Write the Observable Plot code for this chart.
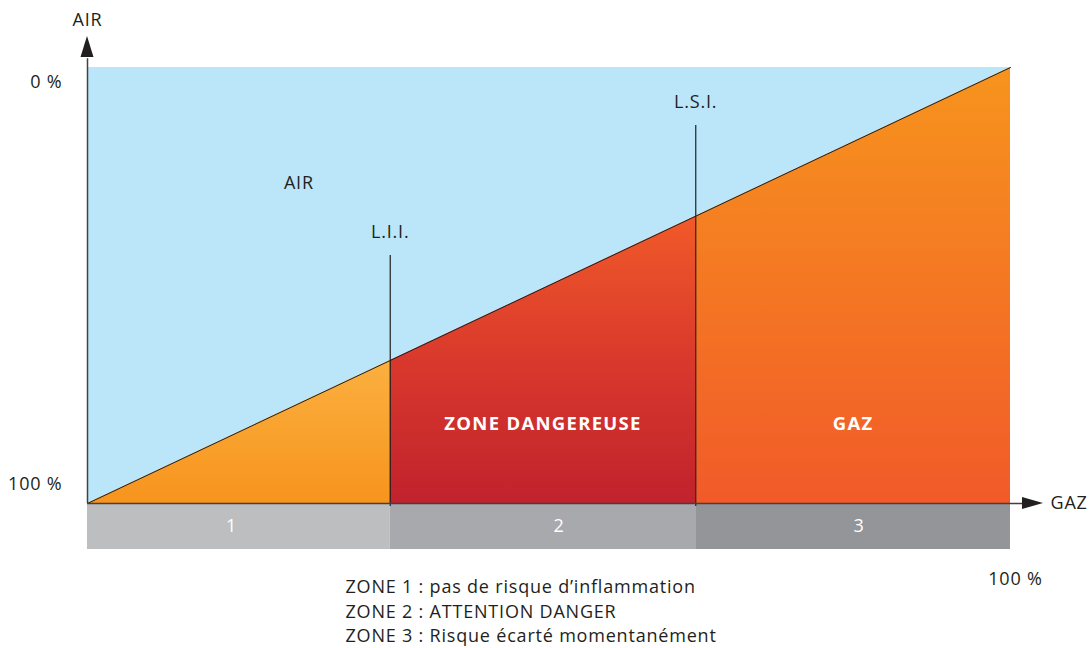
<!DOCTYPE html>
<html>
<head>
<meta charset="utf-8">
<script src="https://cdn.jsdelivr.net/npm/d3@7"></script>
<script src="https://cdn.jsdelivr.net/npm/@observablehq/plot@0.6"></script>
<style>
  html, body { margin: 0; padding: 0; background: #fff; }
  svg { display: block; }
</style>
</head>
<body>
<div id="chart"></div>
<script>
// ---- data ----
const zoneNames = ["1", "2", "3"];
const zoneBounds = [0, 32.8, 65.9, 100];          // % gaz
const zoneLabelAt = [15.6, 51.1, 83.6];           // % gaz where zone numbers sit
const limitNames = ["L.I.I.", "L.S.I."];
const limitValues = [32.8, 65.9];                 // % gaz
const limitTops = [43.1, 13.3];                   // air % where marker lines start
const airTickLabels = ["0 %", "100 %"];
const airTickValues = [0, 100];
const zoneTitles = ["", "ZONE DANGEREUSE", "GAZ"];
const legendLines = [
  "ZONE 1 : pas de risque d\u2019inflammation",
  "ZONE 2 : ATTENTION DANGER",
  "ZONE 3 : Risque écarté momentanément"
];

const FONT = "'Open Sans', Lato, sans-serif";
const TXT = "#231f20";
const FS = 18;
const zoneBarColors = ["#bcbec0", "#a7a9ac", "#939598"];
const gradientSpecs = [
  [["0", "#fbb040"], ["1", "#f7941d"]],
  [["0", "#f15a29"], ["0.5", "#d9392c"], ["1", "#c1222d"]],
  [["0", "#f7941d"], ["1", "#f15a29"]]
];

// ---- derived tables ----
const zones = zoneNames.map((name, i) => ({
  name, i, x1: zoneBounds[i], x2: zoneBounds[i + 1], labelAt: zoneLabelAt[i],
  title: zoneTitles[i], mid: (zoneBounds[i] + zoneBounds[i + 1]) / 2
}));
const zoneAreas = zones.flatMap(z => [
  {zone: z.i, gas: z.x1, air: 100 - z.x1},
  {zone: z.i, gas: z.x2, air: 100 - z.x2}
]);
const limits = limitNames.map((n, i) => ({name: n, gas: limitValues[i], top: limitTops[i]}));
const diagonal = [{gas: 0, air: 100}, {gas: 100, air: 0}];

const svgNS = "http://www.w3.org/2000/svg";
function gradientDefs() {
  const defs = document.createElementNS(svgNS, "defs");
  gradientSpecs.forEach((stops, i) => {
    const g = document.createElementNS(svgNS, "linearGradient");
    g.setAttribute("id", "zg" + i);
    g.setAttribute("x1", "0"); g.setAttribute("y1", "0");
    g.setAttribute("x2", "0"); g.setAttribute("y2", "1");
    stops.forEach(([o, c]) => {
      const s = document.createElementNS(svgNS, "stop");
      s.setAttribute("offset", o); s.setAttribute("stop-color", c);
      g.appendChild(s);
    });
    defs.appendChild(g);
  });
  return defs;
}

function arrowHeads(index, scales) {
  const {x, y} = scales;
  const g = document.createElementNS(svgNS, "g");
  g.setAttribute("fill", TXT);
  const x0 = x(0), y0 = y(0), yb = y(100), xe = x(100);
  const up = document.createElementNS(svgNS, "polygon");
  up.setAttribute("points", `${x0},${y0 - 31} ${x0 - 6.5},${y0 - 10} ${x0 + 6.5},${y0 - 10}`);
  const right = document.createElementNS(svgNS, "polygon");
  right.setAttribute("points", `${xe + 33},${yb} ${xe + 12},${yb - 6} ${xe + 12},${yb + 6}`);
  g.append(up, right);
  return g;
}

const barBottom = 110.55;

const chart = Plot.plot({
  width: 1092,
  height: 648,
  x: {domain: [0, 100], range: [87, 1010], axis: null},
  y: {domain: [0, 100], range: [67, 503], axis: null},
  style: {fontFamily: FONT, background: "#fff", overflow: "visible", letterSpacing: "0.8px"},
  marks: [
    gradientDefs,
    // air background
    Plot.rect([0], {x1: 0, x2: 100, y1: 0, y2: 100, fill: "#bbe5f8"}),
    // gas zones under the diagonal
    ...zones.map(z => Plot.areaY(zoneAreas.filter(d => d.zone === z.i),
      {x: "gas", y1: 100, y2: "air", fill: `url(#zg${z.i})`})),
    // diagonal
    Plot.line(diagonal, {x: "gas", y: "air", stroke: TXT, strokeWidth: 1}),
    // zone bars
    Plot.rect(zones, {x1: "x1", x2: "x2", y1: 100, y2: barBottom,
      fill: (d) => zoneBarColors[d.i]}),
    Plot.text(zones, {x: "labelAt", y: (100 + barBottom) / 2, text: "name", fill: "#fff",
      fontSize: FS}),
    // limit lines
    Plot.ruleX(limits, {x: "gas", y1: "top", y2: 100.7, stroke: TXT, strokeWidth: 1.2}),
    Plot.text(limits, {x: "gas", y: "top", text: "name", dy: -23, fill: TXT, fontSize: FS}),
    // zone titles
    Plot.text(zones.filter(z => z.title), {x: "mid", y: 81.8, text: "title", fill: "#fff",
      fontSize: 18.5, fontWeight: "bold"}),
    // axes lines
    Plot.ruleX([0], {y1: 100, y2: -2, stroke: "#414042", strokeWidth: 1.5}),
    Plot.ruleY([100], {x1: 0, x2: 102, stroke: "#414042", strokeWidth: 1.5}),
    arrowHeads,
    // axis labels
    Plot.text(["AIR"], {x: 0, y: 0, dy: -47, fill: TXT, fontSize: FS}),
    Plot.text(["GAZ"], {x: 100, y: 100, dx: 40, textAnchor: "start", fill: TXT, fontSize: FS}),
    Plot.text([airTickLabels[0]], {x: 0, y: airTickValues[0], dx: -25, dy: 15,
      textAnchor: "end", fill: TXT, fontSize: FS}),
    Plot.text([airTickLabels[1]], {x: 0, y: airTickValues[1], dx: -25, dy: -19,
      textAnchor: "end", fill: TXT, fontSize: FS}),
    Plot.text(["100 %"], {x: 100, y: 100, dy: 76, dx: 5, fill: TXT, fontSize: FS}),
    // inner AIR label
    Plot.text(["AIR"], {x: 22.9, y: 26.6, fill: TXT, fontSize: FS}),
    // legend
    ...legendLines.map((line, i) => Plot.text([line], {x: 27.95, y: 100, dy: 84 + i * 24.5,
      textAnchor: "start", fill: TXT, fontSize: FS}))
  ]
});
// bold titles get a touch more tracking
d3.select(chart).selectAll("text").filter(function() {
  return this.closest("[font-weight=bold]");
}).attr("letter-spacing", "1.3px");
document.getElementById("chart").appendChild(chart);
</script>
</body>
</html>
